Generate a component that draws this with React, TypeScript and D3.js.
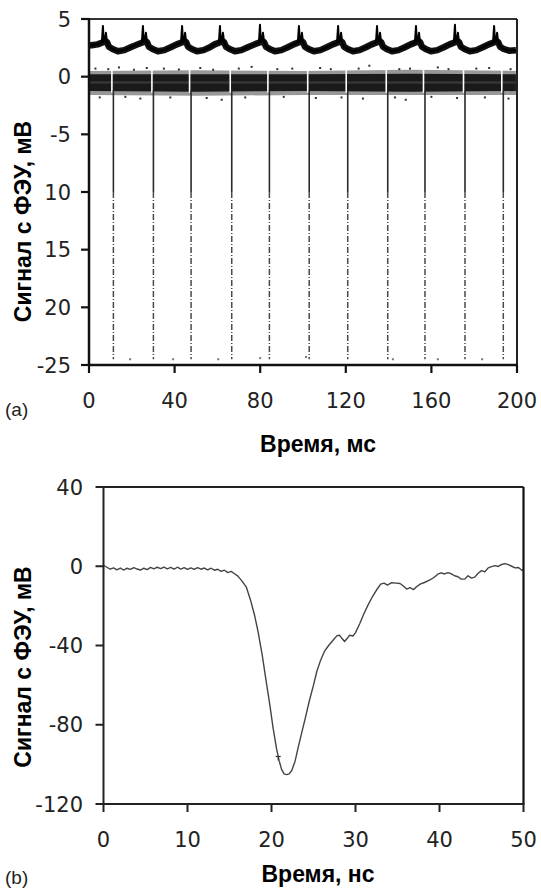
import React from "react";
import * as d3 from "d3";

// ---------- Panel (a) data ----------
const TOP_X_TICKS = [0, 40, 80, 120, 160, 200];
const TOP_Y_TICKS = [5, 0, -5, -10, -15, -20, -25];
const TOP_Y_LABELS = ["5", "0", "-5", "10", "15", "20", "-25"];

// upper trace (ms, mV)
const UPPER_TRACE: [number, number][] = [
  [0.3, 2.7], [2.0, 2.75],
  [4.0, 2.8], [6.0, 2.95], [6.5, 4.4], [6.9, 3.0], [7.4, 3.1], [7.9, 3.8], [8.4, 3.0], [9.3, 2.6], [11.0, 2.4], [13.5, 2.2], [16.5, 2.3], [19.5, 2.55],
  [22.7, 2.8], [24.7, 2.95], [25.2, 4.4], [25.6, 3.0], [26.1, 3.1], [26.6, 3.8], [27.1, 3.0], [28.0, 2.6], [29.7, 2.4], [32.2, 2.2], [35.2, 2.3], [38.2, 2.55],
  [41.0, 2.8], [43.0, 2.95], [43.5, 4.4], [43.9, 3.0], [44.4, 3.1], [44.9, 3.8], [45.4, 3.0], [46.3, 2.6], [48.0, 2.4], [50.5, 2.2], [53.5, 2.3], [56.5, 2.55],
  [58.7, 2.8], [60.7, 2.95], [61.2, 4.4], [61.6, 3.0], [62.1, 3.1], [62.6, 3.8], [63.1, 3.0], [64.0, 2.6], [65.7, 2.4], [68.2, 2.2], [71.2, 2.3], [74.2, 2.55],
  [77.4, 2.8], [79.4, 2.95], [79.9, 4.5], [80.3, 3.0], [80.8, 3.1], [81.3, 3.8], [81.8, 3.0], [82.7, 2.6], [84.4, 2.4], [86.9, 2.2], [89.9, 2.3], [92.9, 2.55],
  [95.6, 2.8], [97.6, 2.95], [98.1, 4.4], [98.5, 3.0], [99.0, 3.1], [99.5, 3.8], [100.0, 3.0], [100.9, 2.6], [102.6, 2.4], [105.1, 2.2], [108.1, 2.3], [111.1, 2.55],
  [113.9, 2.8], [115.9, 2.95], [116.4, 4.4], [116.8, 3.0], [117.3, 3.1], [117.8, 3.8], [118.3, 3.0], [119.2, 2.6], [120.9, 2.4], [123.4, 2.2], [126.4, 2.3], [129.4, 2.55],
  [132.1, 2.8], [134.1, 2.95], [134.6, 4.4], [135.0, 3.0], [135.5, 3.1], [136.0, 3.8], [136.5, 3.0], [137.4, 2.6], [139.1, 2.4], [141.6, 2.2], [144.6, 2.3], [147.6, 2.55],
  [150.3, 2.8], [152.3, 2.95], [152.8, 4.4], [153.2, 3.0], [153.7, 3.1], [154.2, 3.8], [154.7, 3.0], [155.6, 2.6], [157.3, 2.4], [159.8, 2.2], [162.8, 2.3], [165.8, 2.55],
  [168.5, 2.8], [170.5, 2.95], [171.0, 4.5], [171.4, 3.0], [171.9, 3.1], [172.4, 3.8], [172.9, 3.0], [173.8, 2.6], [175.5, 2.4], [178.0, 2.2], [181.0, 2.3], [184.0, 2.55],
  [186.8, 2.8], [188.8, 2.95], [189.3, 4.4], [189.7, 3.0], [190.2, 3.1], [190.7, 3.8], [191.2, 3.0], [192.1, 2.6], [193.8, 2.4], [196.3, 2.25], [199.5, 2.3],
];
const PEAK_CUT = 3.2; // above this the trace is drawn thin

// lower noisy band envelope (ms, top mV, bottom mV)
const BAND_OUTER: [number, number, number][] = [
  [0.3, 0.5, -1.6], [50, 0.55, -1.65], [100, 0.5, -1.6], [150, 0.6, -1.6], [199.5, 0.5, -1.6],
];
const BAND_CORE: [number, number, number][] = [
  [0.3, 0.2, -1.25], [50, 0.2, -1.3], [100, 0.2, -1.25], [150, 0.25, -1.3], [199.5, 0.2, -1.25],
];
// speckles above / below the band (ms, mV)
const SPECKLES: [number, number][] = [
  [3, 0.7], [9, 0.65], [14, 0.8], [21, 0.6], [27, 0.75], [35, 0.7], [42, 0.62], [52, 0.75], [58, 0.6], [70, 0.7], [76, 0.85],
  [88, 0.65], [95, 0.7], [108, 0.75], [113, 0.65], [126, 0.7], [131, 0.95], [145, 0.65], [150, 0.7], [163, 0.8], [168, 0.65], [181, 0.7], [187, 0.75], [197, 0.65],
  [5, -1.8], [17, -1.75], [24, -1.9], [38, -1.8], [55, -1.85], [62, -2.0], [73, -1.8], [91, -1.75], [106, -1.85], [118, -1.8],
  [128, -1.9], [143, -1.8], [148, -2.0], [160, -1.75], [172, -1.85], [185, -1.8], [196, -1.9],
];

// negative pulses (ms)
const SPIKE_TIMES = [11.4, 30.1, 47.7, 66.7, 84.3, 102.9, 120.9, 139.6, 157.0, 175.7, 193.6];
const SPIKE_MIN = [-24.5, -24.5, -24.5, -24.5, -24.5, -24.5, -24.5, -24.5, -24.5, -24.5, -24.5];
const SPIKE_SOLID_END = -10;
// stray points near the bottom
const STRAY_POINTS: [number, number][] = [
  [19.2, -24.5], [39.3, -24.5], [60.4, -24.5], [80.0, -24.4], [101.4, -24.3], [142.0, -24.5], [163.0, -24.5], [183.7, -24.5],
];

// ---------- Panel (b) data ----------
const BOT_X_TICKS = [0, 10, 20, 30, 40, 50];
const BOT_Y_TICKS = [40, 0, -40, -80, -120];
const PULSE: [number, number][] = [
  [0, 0.5], [0.4, -0.5], [0.8, -1.5], [1.2, -0.8], [1.6, -1.8], [2.0, -0.9], [2.4, -1.9], [2.8, -1.0], [3.2, -1.6], [3.6, -0.7],
  [4.0, -1.4], [4.4, -1.9], [4.8, -1.0], [5.2, -1.7], [5.6, -0.6], [6.0, -1.3], [6.4, -0.5], [6.8, -1.2], [7.2, -0.4], [7.6, -1.3],
  [8.0, -0.6], [8.4, -1.5], [8.8, -0.5], [9.2, -1.4], [9.6, -0.7], [10.0, -1.6], [10.4, -0.8], [10.8, -1.6], [11.2, -0.7], [11.6, -1.5],
  [12.0, -0.9], [12.4, -1.8], [12.8, -1.0], [13.2, -2.0], [13.6, -1.5], [14.0, -2.6], [14.4, -2.0], [14.8, -3.2], [15.2, -2.6], [15.6, -3.8],
  [16.0, -5.0], [16.5, -7.5], [17.0, -10.5], [17.5, -17], [18.0, -25], [18.4, -33], [18.9, -45], [19.4, -59], [19.8, -70], [20.2, -82],
  [20.6, -92], [20.9, -98], [21.2, -102.5], [21.5, -104.8], [21.8, -105.2], [22.1, -104.8], [22.4, -103.2], [22.8, -98.5], [23.2, -91], [23.6, -84],
  [24.0, -77], [24.5, -68], [25.0, -60], [25.4, -53], [25.8, -48], [26.3, -43], [26.8, -40], [27.3, -37.5], [27.8, -35], [28.1, -34.8],
  [28.4, -36.5], [28.7, -38], [29.0, -36.5], [29.3, -34.8], [29.7, -35.2], [30.0, -33.5], [30.5, -29], [31.0, -24], [31.5, -19.5], [32.0, -15.5],
  [32.5, -12], [33.0, -9], [33.4, -8.5], [33.8, -9.5], [34.3, -8.3], [34.8, -8.5], [35.3, -8.7], [35.7, -10], [36.1, -11.5], [36.5, -10.8],
  [36.9, -11.8], [37.3, -10.2], [37.7, -9], [38.2, -8.2], [38.8, -7], [39.3, -5.8], [39.8, -4], [40.2, -3.3], [40.6, -3.9], [41.0, -3.2],
  [41.4, -3.8], [41.8, -4.8], [42.2, -5.3], [42.6, -6.5], [43.0, -6.5], [43.4, -4.8], [43.8, -6], [44.2, -5.5], [44.6, -3.5], [45.0, -2.2],
  [45.4, -2.8], [45.8, -0.8], [46.2, -0.2], [46.6, 0.3], [47.0, -0.1], [47.4, 0.9], [47.8, 1.3], [48.2, 0.8], [48.6, 0.0], [49.0, -0.8],
  [49.4, -0.6], [49.8, -2.0], [50, -1.8],
];
const MARKER: [number, number] = [20.8, -96];

const TICK_FONT = "'DejaVu Sans', Verdana, sans-serif";
const TITLE_FONT = "'Liberation Sans', Arial, sans-serif";

export default function App() {
  // panel (a)
  const xa = d3.scaleLinear().domain([0, 200]).range([89, 517]);
  const ya = d3.scaleLinear().domain([-25, 5]).range([365, 19]);
  // panel (b)
  const xb = d3.scaleLinear().domain([0, 50]).range([103.5, 523.5]);
  const yb = d3.scaleLinear().domain([-120, 40]).range([804, 487]);

  const upperLine = d3.line<[number, number]>().x((d) => xa(d[0])).y((d) => ya(d[1]));
  const upperBase = UPPER_TRACE.filter((d) => d[1] < PEAK_CUT);
  const bandArea = d3
    .area<[number, number, number]>()
    .x((d) => xa(d[0]))
    .y0((d) => ya(d[2]))
    .y1((d) => ya(d[1]));
  const pulseLine = d3.line<[number, number]>().x((d) => xb(d[0])).y((d) => yb(d[1]));

  const [ax0, ax1] = xa.range();
  const [ay0, ay1] = ya.range(); // bottom, top
  const [bx0, bx1] = xb.range();
  const [by0, by1] = yb.range();

  return (
    <svg
      width={541}
      height={888}
      viewBox="0 0 541 888"
      style={{ position: "absolute", left: 0, top: 0, background: "#fff" }}
    >
      <rect x={0} y={0} width={541} height={888} fill="#fff" />

      {/* ===== Panel (a) ===== */}
      <g>
        {/* noise band */}
        <path d={bandArea(BAND_OUTER) || ""} fill="#444" opacity={0.55} />
        <path d={bandArea(BAND_CORE) || ""} fill="#1a1a1a" />
        <line x1={xa(0.3)} x2={xa(199.5)} y1={ya(-0.5)} y2={ya(-0.5)} stroke="#3a3a3a" strokeWidth={2} />
        {SPECKLES.map((p, i) => (
          <rect key={"sk" + i} x={xa(p[0]) - 1} y={ya(p[1]) - 1} width={2} height={2} fill="#333" />
        ))}
        {/* gaps in band at pulses */}
        {SPIKE_TIMES.map((t, i) => (
          <line
            key={"gap" + i}
            x1={xa(t) - 1.5}
            x2={xa(t) - 1.5}
            y1={ya(0.6)}
            y2={ya(-1.4)}
            stroke="#fff"
            strokeWidth={1.6}
          />
        ))}
        {/* pulses */}
        {SPIKE_TIMES.map((t, i) => (
          <g key={"sp" + i}>
            <line x1={xa(t)} x2={xa(t)} y1={ya(-1.2)} y2={ya(SPIKE_SOLID_END)} stroke="#2a2a2a" strokeWidth={1.6} />
            <line
              x1={xa(t)}
              x2={xa(t)}
              y1={ya(SPIKE_SOLID_END)}
              y2={ya(SPIKE_MIN[i])}
              stroke="#4a4a4a"
              strokeWidth={1.5}
              strokeDasharray="6 2 1 2"
            />
          </g>
        ))}
        {STRAY_POINTS.map((p, i) => (
          <rect key={"st" + i} x={xa(p[0]) - 1} y={ya(p[1]) - 1} width={2} height={2} fill="#777" />
        ))}
        {/* upper trace: thick noisy baseline, thin spikes */}
        <path d={upperLine(upperBase) || ""} fill="none" stroke="#111" strokeWidth={6.5} strokeLinejoin="round" />
        <path d={upperLine(UPPER_TRACE) || ""} fill="none" stroke="#000" strokeWidth={2} strokeLinejoin="round" />

        {/* frame */}
        <line x1={ax0} x2={ax1} y1={ay1} y2={ay1} stroke="#333" strokeWidth={2} />
        <line x1={ax1} x2={ax1} y1={ay1} y2={ay0} stroke="#222" strokeWidth={2} />
        <line x1={ax0} x2={ax1 + 1} y1={ay0} y2={ay0} stroke="#111" strokeWidth={2.5} />
        <line x1={ax0} x2={ax0} y1={ay1 - 1} y2={ay0 + 1} stroke="#111" strokeWidth={2.5} />

        {TOP_X_TICKS.map((t) => (
          <g key={"xt" + t}>
            <line x1={xa(t)} x2={xa(t)} y1={ay0} y2={ay0 + 8} stroke="#111" strokeWidth={2.2} />
            <text x={xa(t)} y={408} textAnchor="middle" fontFamily={TICK_FONT} fontSize={21} fill="#222">
              {t}
            </text>
          </g>
        ))}
        {TOP_Y_TICKS.map((v, i) => (
          <g key={"yt" + v}>
            <line x1={ax0 - 8} x2={ax0} y1={ya(v)} y2={ya(v)} stroke="#111" strokeWidth={2.2} />
            <text
              x={71}
              y={ya(v)}
              dy="0.36em"
              textAnchor="end"
              fontFamily={TICK_FONT}
              fontSize={21}
              fill="#222"
            >
              {TOP_Y_LABELS[i]}
            </text>
          </g>
        ))}
        <text
          transform="translate(31,221.5) rotate(-90)"
          textAnchor="middle"
          fontFamily={TITLE_FONT}
          fontWeight="bold"
          fontSize={23}
          fill="#000"
        >
          Сигнал с ФЭУ, мВ
        </text>
        <text x={318} y={452} textAnchor="middle" fontFamily={TITLE_FONT} fontWeight="bold" fontSize={23} fill="#000">
          Время, мс
        </text>
        <text x={5} y={416} fontFamily={TITLE_FONT} fontSize={19} fill="#222">
          (a)
        </text>
      </g>

      {/* ===== Panel (b) ===== */}
      <g>
        <path d={pulseLine(PULSE) || ""} fill="none" stroke="#444" strokeWidth={1.4} strokeLinejoin="round" />
        <line x1={xb(MARKER[0]) - 2.5} x2={xb(MARKER[0]) + 2.5} y1={yb(MARKER[1])} y2={yb(MARKER[1])} stroke="#333" strokeWidth={1.2} />
        <line x1={xb(MARKER[0])} x2={xb(MARKER[0])} y1={yb(MARKER[1])} y2={yb(MARKER[1]) + 4} stroke="#333" strokeWidth={1.2} />

        <line x1={bx0} x2={bx1} y1={by1} y2={by1} stroke="#222" strokeWidth={2} />
        <line x1={bx1} x2={bx1} y1={by1} y2={by0} stroke="#111" strokeWidth={2.2} />
        <line x1={bx0} x2={bx1 + 1} y1={by0} y2={by0} stroke="#222" strokeWidth={2} />
        <line x1={bx0} x2={bx0} y1={by1 - 1} y2={by0 + 1} stroke="#222" strokeWidth={2} />

        {BOT_X_TICKS.map((t) => (
          <g key={"bxt" + t}>
            <line x1={xb(t)} x2={xb(t)} y1={by0} y2={by0 + 8} stroke="#222" strokeWidth={2} />
            <text x={xb(t)} y={847} textAnchor="middle" fontFamily={TICK_FONT} fontSize={21} fill="#222">
              {t}
            </text>
          </g>
        ))}
        {BOT_Y_TICKS.map((v) => (
          <g key={"byt" + v}>
            <line x1={bx0 - 8} x2={bx0} y1={yb(v)} y2={yb(v)} stroke="#222" strokeWidth={2} />
            <text
              x={83}
              y={yb(v)}
              dy="0.36em"
              textAnchor="end"
              fontFamily={TICK_FONT}
              fontSize={21}
              fill="#222"
            >
              {v}
            </text>
          </g>
        ))}
        <text
          transform="translate(31,667) rotate(-90)"
          textAnchor="middle"
          fontFamily={TITLE_FONT}
          fontWeight="bold"
          fontSize={23}
          fill="#000"
        >
          Сигнал с ФЭУ, мВ
        </text>
        <text x={318} y={882} textAnchor="middle" fontFamily={TITLE_FONT} fontWeight="bold" fontSize={23} fill="#000">
          Время, нс
        </text>
        <text x={5} y={884} fontFamily={TITLE_FONT} fontSize={19} fill="#222">
          (b)
        </text>
      </g>
    </svg>
  );
}
